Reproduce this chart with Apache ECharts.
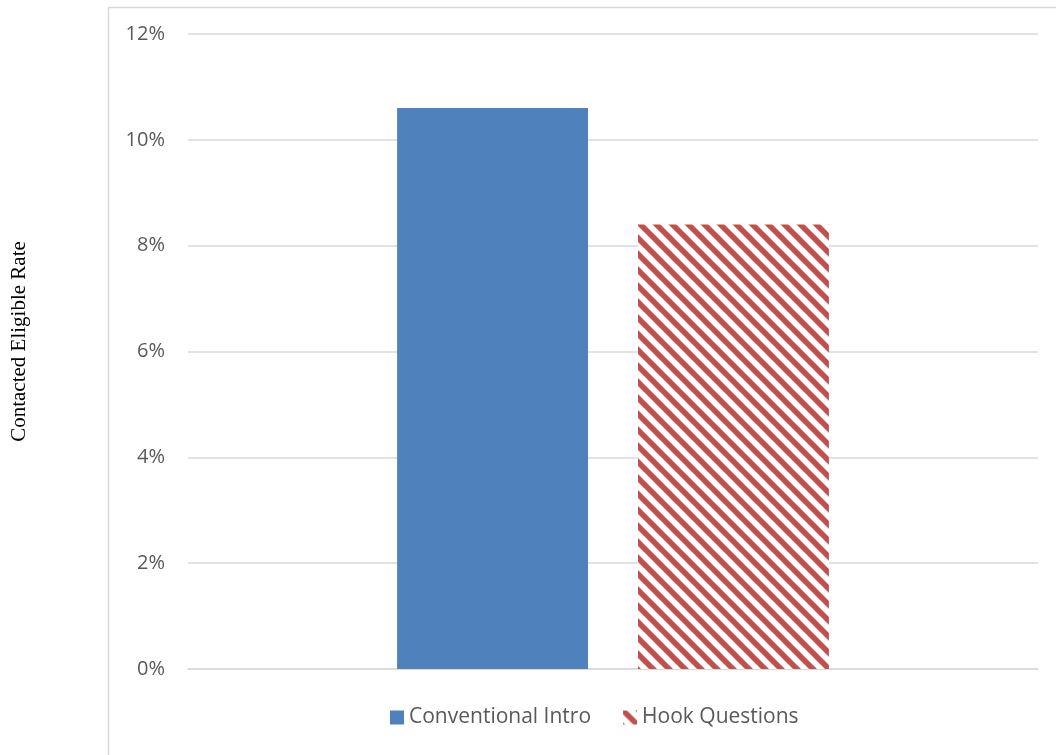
<!DOCTYPE html>
<html><head><meta charset="utf-8">
<script src="https://cdn.jsdelivr.net/npm/echarts@6/dist/echarts.min.js"></script>
<style>html,body{margin:0;padding:0;background:#fff}#c{width:1056px;height:755px}</style>
</head><body><div id="c"></div>
<script>
var categories = [''];
var seriesNames = ['Conventional Intro', 'Hook Questions'];
var conventionalIntro = [10.6];
var hookQuestions = [8.4];
var yTicks = [0, 2, 4, 6, 8, 10, 12];
var yTitle = 'Contacted Eligible Rate';

function makeHatch() {
  var P = 16;
  var cv = document.createElement('canvas');
  cv.width = P; cv.height = P;
  var ctx = cv.getContext('2d');
  ctx.fillStyle = '#ffffff';
  ctx.fillRect(0, 0, P, P);
  ctx.strokeStyle = '#C0504D';
  ctx.lineWidth = 5.5;
  for (var k = -1; k <= 1; k++) {
    ctx.beginPath();
    ctx.moveTo(-2, -2 + k * P);
    ctx.lineTo(P + 2, P + 2 + k * P);
    ctx.stroke();
  }
  return cv;
}

var chart = echarts.init(document.getElementById('c'), null, {renderer: 'canvas'});
var font = '"Open Sans", "Liberation Sans", sans-serif';
chart.setOption({
  animation: false,
  backgroundColor: '#ffffff',
  graphic: [{
    type: 'rect', left: 106, top: 5,
    shape: {width: 970, height: 770},
    style: {fill: 'none', stroke: '#D9D9D9', lineWidth: 1.5},
    silent: true, z: -1
  }],
  grid: {left: 188, right: 18, top: 34, bottom: 86, containLabel: false},
  legend: {
    bottom: 22, left: 385,
    itemWidth: 14, itemHeight: 14, itemGap: 32,
    icon: 'rect',
    textStyle: {fontFamily: font, fontSize: 21, color: '#595959'},
    data: seriesNames
  },
  xAxis: {
    type: 'category', data: categories,
    axisLine: {lineStyle: {color: '#D9D9D9', width: 1.5}},
    axisTick: {show: false}, axisLabel: {show: false}
  },
  yAxis: {
    type: 'value', min: yTicks[0], max: yTicks[yTicks.length - 1], interval: 2,
    name: yTitle, nameLocation: 'middle', nameGap: 158, nameRotate: 90,
    nameTextStyle: {fontFamily: '"Liberation Serif", "Times New Roman", serif', fontSize: 21, color: '#000000', padding: [0, 0, 0, 20]},
    axisLine: {show: false}, axisTick: {show: false},
    axisLabel: {formatter: '{value}%', margin: 23, fontFamily: font, fontSize: 20, color: '#595959'},
    splitLine: {lineStyle: {color: '#D9D9D9', width: 1.5}}
  },
  series: [{
    name: seriesNames[0], type: 'bar', data: conventionalIntro,
    barGap: '26.2%', barCategoryGap: '49.2%',
    itemStyle: {color: '#4F81BD'}
  }, {
    name: seriesNames[1], type: 'bar', data: hookQuestions,
    itemStyle: {color: {image: makeHatch(), repetition: 'repeat'}}
  }]
});
</script></body></html>
